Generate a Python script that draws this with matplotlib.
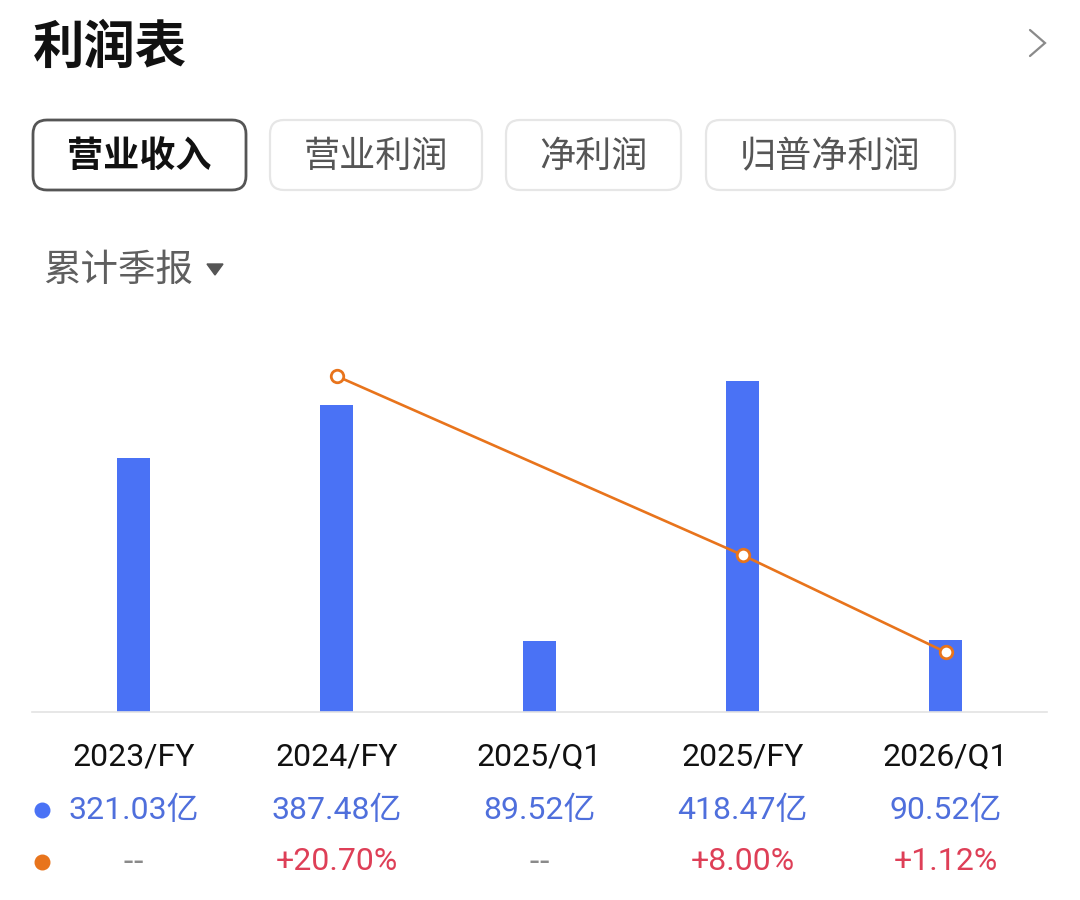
import matplotlib.pyplot as plt
import matplotlib.transforms as mtransforms
from matplotlib.patches import FancyBboxPatch
import numpy as np

plt.rcParams['font.family'] = ['Noto Sans CJK SC', 'DejaVu Sans']
NUM_FONT = ['Roboto', 'Noto Sans CJK SC', 'DejaVu Sans']

# data
periods = ["2023/FY", "2024/FY", "2025/Q1", "2025/FY", "2026/Q1"]
revenue = [321.03, 387.48, 89.52, 418.47, 90.52]          # 亿
growth = [np.nan, 20.70, np.nan, 8.00, 1.12]              # %
revenue_labels = ["321.03亿", "387.48亿", "89.52亿", "418.47亿", "90.52亿"]
growth_labels = ["--", "+20.70%", "--", "+8.00%", "+1.12%"]
tabs = ["营业收入", "营业利润", "净利润", "归普净利润"]

BLUE = "#4A72F5"
BLUE_TXT = "#4F6FDC"
ORANGE = "#E8741C"
RED = "#DE3F57"

W, H = 1080, 900
fig = plt.figure(figsize=(W / 100, H / 100), dpi=100)
fig.patch.set_facecolor("white")

# overlay axes in pixel coordinates for the UI parts
ui = fig.add_axes([0, 0, 1, 1])
ui.set_xlim(0, W)
ui.set_ylim(H, 0)
ui.axis("off")

ui.text(33, 47, "利润表", fontsize=37, fontweight="bold", color="#111111",
        ha="left", va="center")
# chevron
ui.plot([1030, 1045, 1030], [30, 43, 56], color="#8a8a8a", lw=1.6,
        solid_capstyle="round", solid_joinstyle="miter")

tab_boxes = [(33, 246), (270, 482), (506, 681), (706, 955)]
for i, (name, (x0, x1)) in enumerate(zip(tabs, tab_boxes)):
    active = i == 0
    box = FancyBboxPatch((x0, 120), x1 - x0, 70,
                         boxstyle="round,pad=0,rounding_size=14",
                         facecolor="white",
                         edgecolor="#555555" if active else "#e6e6e6",
                         lw=2.0 if active else 1.6)
    ui.add_patch(box)
    ui.text((x0 + x1) / 2, 157, name, fontsize=26,
            fontweight="bold" if active else "normal",
            color="#111111" if active else "#555555",
            ha="center", va="center")

ui.text(43, 270, "累计季报", fontsize=27, color="#5f5f5f", ha="left", va="center")
ui.fill([207, 223, 215], [264, 264, 275], color="#555555")

# chart axes
left, right, top, bottom = 32, 1047, 312, 712
ax = fig.add_axes([left / W, 1 - bottom / H, (right - left) / W, (bottom - top) / H])
ax.patch.set_alpha(0)
x = np.arange(len(periods))
ax.bar(x, revenue, width=0.158, color=BLUE, zorder=2)
ax.set_xlim(-0.5, 4.5)
ax.set_ylim(0, 505.5)
for s in ["top", "right", "left"]:
    ax.spines[s].set_visible(False)
ax.spines["bottom"].set_color("#e3e3e3")
ax.spines["bottom"].set_linewidth(1.2)
ax.set_yticks([])
ax.set_xticks([])

ax2 = ax.twinx()
ax2.set_ylim(-3.13, 25.24)
ax2.axis("off")
gx = [xi for xi, g in zip(x, growth) if not np.isnan(g)]
gy = [g for g in growth if not np.isnan(g)]
ax2.plot(gx, gy, color=ORANGE, lw=1.9, marker="o", markersize=9,
         markerfacecolor="white", markeredgecolor=ORANGE, markeredgewidth=2.0,
         zorder=3)

# labels under the chart
tr = mtransforms.blended_transform_factory(ax.transData, fig.transFigure)
for xi, p, rv, gl in zip(x, periods, revenue_labels, growth_labels):
    fig.text(xi, 1 - 757 / H, p, transform=tr, fontsize=23, color="#111111",
             ha="center", va="center", family=NUM_FONT)
    fig.text(xi, 1 - 810 / H, rv, transform=tr, fontsize=23, color=BLUE_TXT,
             ha="center", va="center", family=NUM_FONT)
    if gl == "--":
        fig.text(xi, 1 - 862 / H, gl, transform=tr, fontsize=23, color="#8a8a8a",
                 ha="center", va="center", family=['Noto Sans CJK SC', 'DejaVu Sans'])
    else:
        fig.text(xi, 1 - 862 / H, gl, transform=tr, fontsize=23, color=RED,
                 ha="center", va="center", family=NUM_FONT)

ui.scatter([42], [810], s=110, color=BLUE, zorder=4)
ui.scatter([42], [862], s=110, color=ORANGE, zorder=4)

fig.savefig("out.png", dpi=100)
